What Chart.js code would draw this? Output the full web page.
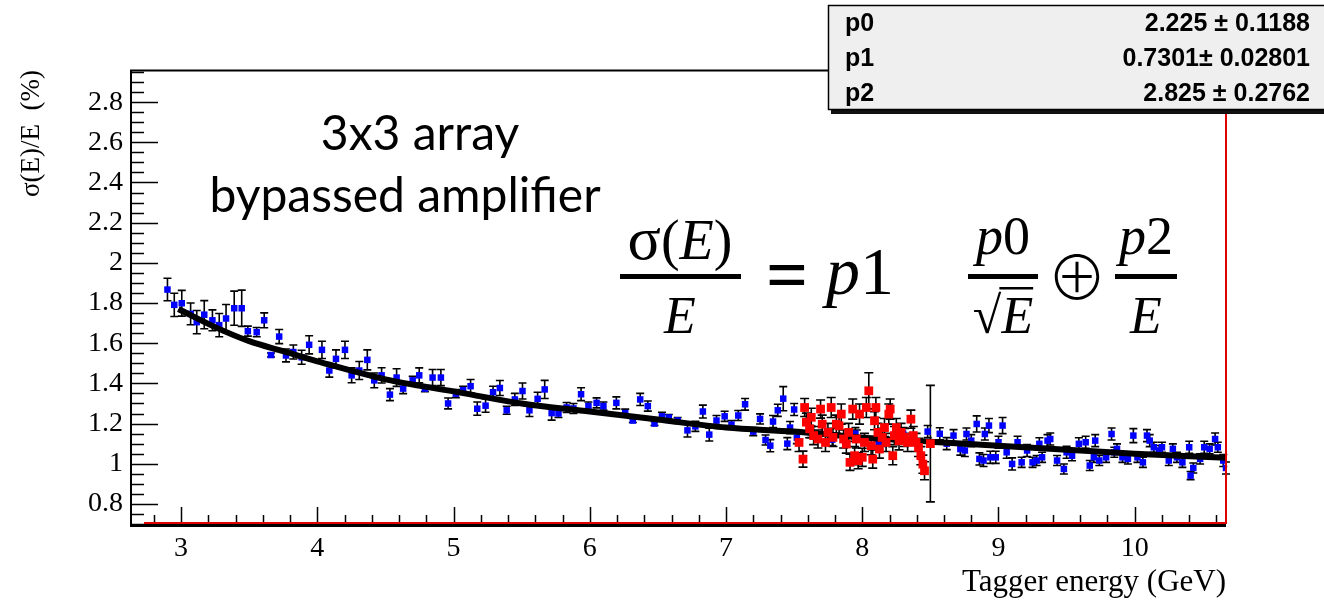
<!DOCTYPE html>
<html>
<head>
<meta charset="utf-8">
<script src="https://cdn.jsdelivr.net/npm/chart.js@4.4.1/dist/chart.umd.min.js"></script>
<style>
html, body { margin: 0; padding: 0; background: #fff; }
</style>
</head>
<body>
<canvas id="c" width="1324" height="602"></canvas>
<script>
// tick labels
var xTickValues = [3, 4, 5, 6, 7, 8, 9, 10];
var yTickValues = [0.8, 1, 1.2, 1.4, 1.6, 1.8, 2, 2.2, 2.4, 2.6, 2.8];

// blue points: energy, sigma/E, error
var blueE = [2.90, 2.95, 3.005, 3.07, 3.115, 3.17, 3.23, 3.28, 3.33, 3.39, 3.445, 3.49, 3.555, 3.61, 3.66, 3.72, 3.77, 3.824, 3.885, 3.94,
  4.034, 4.088, 4.137, 4.203, 4.252, 4.308, 4.367, 4.418, 4.472, 4.533, 4.582, 4.63, 4.70, 4.748, 4.79, 4.846, 4.907, 4.96,
  5.017, 5.07, 5.125, 5.174, 5.235, 5.29, 5.34, 5.39, 5.45, 5.506, 5.557, 5.617, 5.669, 5.72, 5.77, 5.83, 5.88, 5.936, 5.99,
  6.05, 6.10, 6.195, 6.26, 6.316, 6.37, 6.426, 6.475, 6.53, 6.58, 6.645, 6.717, 6.775, 6.83, 6.877, 6.93, 6.99,
  7.04, 7.09, 7.14, 7.20, 7.25, 7.29, 7.325, 7.345, 7.38, 7.42, 7.45, 7.47, 7.50, 7.52, 7.62, 7.78, 7.95,
  8.12, 8.30, 8.48, 8.569, 8.62, 8.67, 8.72, 8.753, 8.765, 8.80, 8.84, 8.86, 8.89, 8.90, 8.93, 8.94, 8.98,
  9.00, 9.03, 9.06, 9.10, 9.14, 9.17, 9.21, 9.25, 9.28, 9.30, 9.32, 9.36, 9.38, 9.43, 9.48, 9.50, 9.54, 9.59, 9.64, 9.67,
  9.70, 9.71, 9.74, 9.79, 9.83, 9.85, 9.87, 9.91, 9.95, 9.99, 10.02, 10.06, 10.09, 10.11, 10.14, 10.18, 10.20, 10.25, 10.28,
  10.31, 10.35, 10.40, 10.41, 10.43, 10.48, 10.51, 10.55, 10.59, 10.61, 10.65, 10.67];
var blueV = [1.867, 1.791, 1.799, 1.746, 1.705, 1.742, 1.714, 1.69, 1.723, 1.774, 1.774, 1.66, 1.655, 1.714, 1.541, 1.633, 1.539, 1.556, 1.53, 1.592,
  1.567, 1.464, 1.522, 1.567, 1.44, 1.464, 1.517, 1.415, 1.44, 1.344, 1.429, 1.374, 1.415, 1.44, 1.374, 1.429, 1.429, 1.30,
  1.349, 1.366, 1.386, 1.274, 1.289, 1.356, 1.377, 1.266, 1.32, 1.362, 1.266, 1.323, 1.37, 1.252, 1.25, 1.28, 1.275, 1.346, 1.287,
  1.303, 1.287, 1.303, 1.252, 1.215, 1.32, 1.287, 1.20, 1.236, 1.23, 1.215, 1.166, 1.186, 1.26, 1.145, 1.215, 1.236,
  1.195, 1.24, 1.296, 1.16, 1.223, 1.118, 1.09, 1.21, 1.266, 1.324, 1.10, 1.18, 1.27, 1.13, 1.16, 1.12, 1.15,
  1.10, 1.15, 1.16, 1.149, 1.10, 1.14, 1.073, 1.066, 1.148, 1.115, 1.198, 1.024, 1.016, 1.148, 1.19, 1.032, 1.032,
  1.107, 1.19, 1.057, 0.999, 1.107, 1.007, 1.066, 1.007, 1.016, 1.099, 1.032, 1.115, 1.123, 1.016, 0.974, 1.057, 1.04, 1.099, 1.107, 0.991,
  1.032, 1.115, 1.016, 1.032, 1.148, 1.057, 1.074, 1.032, 1.024, 1.14, 1.032, 1.007, 1.14, 1.115, 1.082, 1.066, 1.082, 1.016, 1.074,
  1.032, 1.007, 1.082, 0.941, 0.979, 1.024, 1.082, 1.074, 1.123, 1.082, 1.016, 0.979];
var blueErr = [0.056, 0.058, 0.064, 0.054, 0.058, 0.07, 0.052, 0.058, 0.07, 0.085, 0.09, 0.025, 0.023, 0.037, 0.01, 0.035, 0.032, 0.035, 0.035, 0.045,
  0.043, 0.033, 0.045, 0.043, 0.037, 0.045, 0.05, 0.037, 0.038, 0.03, 0.044, 0.025, 0.02, 0.037, 0.015, 0.04, 0.04, 0.027,
  0.02, 0.02, 0.033, 0.033, 0.033, 0.03, 0.037, 0.02, 0.03, 0.04, 0.031, 0.033, 0.045, 0.035, 0.02, 0.025, 0.025, 0.032, 0.02,
  0.025, 0.02, 0.03, 0.02, 0.01, 0.03, 0.025, 0.01, 0.02, 0.015, 0.015, 0.033, 0.025, 0.032, 0.032, 0.025, 0.025,
  0.02, 0.025, 0.029, 0.02, 0.025, 0.025, 0.03, 0.03, 0.03, 0.06, 0.03, 0.03, 0.03, 0.03, 0.03, 0.03, 0.03,
  0.03, 0.03, 0.03, 0.03, 0.03, 0.03, 0.03, 0.03, 0.03, 0.03, 0.04, 0.03, 0.03, 0.03, 0.035, 0.03, 0.03,
  0.03, 0.04, 0.03, 0.03, 0.03, 0.025, 0.03, 0.025, 0.025, 0.03, 0.025, 0.03, 0.03, 0.025, 0.025, 0.03, 0.025, 0.03, 0.03, 0.025,
  0.025, 0.03, 0.025, 0.025, 0.03, 0.025, 0.025, 0.025, 0.025, 0.035, 0.025, 0.025, 0.03, 0.03, 0.025, 0.025, 0.025, 0.025, 0.025,
  0.025, 0.025, 0.03, 0.02, 0.025, 0.025, 0.03, 0.025, 0.03, 0.025, 0.03, 0.03];

// red points
var redE = [7.536, 7.565, 7.577, 7.59, 7.614, 7.626, 7.643, 7.675, 7.694, 7.706, 7.73, 7.748, 7.772, 7.785, 7.81, 7.83, 7.846, 7.863, 7.883, 7.90,
  7.91, 7.93, 7.944, 7.956, 7.97, 7.98, 8.00, 8.016, 8.03, 8.048, 8.065, 8.077, 8.09, 8.10, 8.115, 8.126, 8.146, 8.163, 8.175, 8.195,
  8.205, 8.224, 8.236, 8.25, 8.27, 8.285, 8.31, 8.333, 8.357, 8.375, 8.395, 8.413, 8.43, 8.445, 8.457, 8.50];
var redV = [1.106, 1.023, 1.28, 1.207, 1.174, 1.231, 1.14, 1.123, 1.272, 1.197, 1.106, 1.156, 1.28, 1.131, 1.197, 1.189, 1.247, 1.123, 1.098, 1.156,
  1.007, 1.272, 1.04, 1.123, 1.015, 1.247, 1.032, 1.106, 1.28, 1.363, 1.09, 1.023, 1.214, 1.28, 1.156, 1.073, 1.131, 1.18, 1.106, 1.247,
  1.272, 1.04, 1.14, 1.18, 1.114, 1.156, 1.131, 1.106, 1.222, 1.14, 1.106, 1.081, 1.04, 0.998, 0.965, 1.10];
var redErr = [0.045, 0.04, 0.045, 0.045, 0.045, 0.045, 0.045, 0.045, 0.045, 0.045, 0.045, 0.045, 0.05, 0.045, 0.045, 0.045, 0.05, 0.045, 0.045, 0.045,
  0.04, 0.05, 0.045, 0.045, 0.04, 0.05, 0.045, 0.045, 0.05, 0.09, 0.045, 0.045, 0.045, 0.05, 0.045, 0.045, 0.045, 0.045, 0.045, 0.05,
  0.05, 0.045, 0.045, 0.045, 0.045, 0.045, 0.045, 0.045, 0.045, 0.045, 0.045, 0.045, 0.045, 0.045, 0.045, 0.29];

// fit curve
var fitE = [2.98, 3.25, 3.5, 3.75, 4, 4.5, 5, 5.5, 6, 6.5, 7, 7.5, 8, 8.5, 9, 9.5, 10, 10.67];
var fitV = [1.77, 1.68, 1.61, 1.56, 1.51, 1.42, 1.36, 1.30, 1.26, 1.22, 1.18, 1.16, 1.13, 1.11, 1.09, 1.07, 1.05, 1.03];

// stats box
var parNames = ['p0', 'p1', 'p2'];
var parValues = ['2.225 \u00b1 0.1188', '0.7301\u00b1 0.02801', '2.825 \u00b1 0.2762'];

function pts(xs, ys) {
  return xs.map(function(v, i) { return {x: v, y: ys[i]}; });
}

var serif = '"Liberation Serif", "Times New Roman", serif';

var errorBars = {
  id: 'errorBars',
  beforeDatasetsDraw: function(chart) {
    var ctx = chart.ctx, yS = chart.scales.y;
    ctx.save();
    ctx.strokeStyle = '#000';
    ctx.lineWidth = 1.6;
    chart.data.datasets.forEach(function(ds, di) {
      if (!ds.errs) return;
      var meta = chart.getDatasetMeta(di);
      meta.data.forEach(function(p, j) {
        var v = ds.data[j].y, e = ds.errs[j];
        var top = yS.getPixelForValue(v + e), bot = yS.getPixelForValue(v - e);
        var w = ds.capHalf;
        ctx.beginPath();
        ctx.moveTo(p.x, top); ctx.lineTo(p.x, bot);
        ctx.moveTo(p.x - w, top); ctx.lineTo(p.x + w, top);
        ctx.moveTo(p.x - w, bot); ctx.lineTo(p.x + w, bot);
        ctx.stroke();
      });
    });
    ctx.restore();
  }
};

function run(ctx, parts, cx, base, align) {
  var total = 0;
  parts.forEach(function(p) { ctx.font = p[1]; total += ctx.measureText(p[0]).width; });
  var x = align === 'left' ? cx : cx - total / 2;
  var start = x;
  ctx.textAlign = 'left';
  parts.forEach(function(p) { ctx.font = p[1]; ctx.fillText(p[0], x, base); x += ctx.measureText(p[0]).width; });
  return [start, x];
}

var decor = {
  id: 'decor',
  afterDatasetsDraw: function(chart) {
    var ctx = chart.ctx, a = chart.chartArea, xS = chart.scales.x, yS = chart.scales.y;
    ctx.save();
    ctx.strokeStyle = '#000';
    ctx.lineWidth = 1.5;
    ctx.beginPath();
    var k, py, px;
    for (k = 14; k <= 59; k++) {
      py = Math.round(yS.getPixelForValue(k * 0.05)) + 0.5;
      ctx.moveTo(a.left, py); ctx.lineTo(a.left + 14, py);
    }
    yTickValues.forEach(function(v) {
      py = Math.round(yS.getPixelForValue(v)) + 0.5;
      ctx.moveTo(a.left, py); ctx.lineTo(a.left + 28, py);
    });
    for (k = 14; k <= 53; k++) {
      px = Math.round(xS.getPixelForValue(k * 0.2)) + 0.5;
      ctx.moveTo(px, a.bottom); ctx.lineTo(px, a.bottom - 9);
    }
    xTickValues.forEach(function(v) {
      px = Math.round(xS.getPixelForValue(v)) + 0.5;
      ctx.moveTo(px, a.bottom); ctx.lineTo(px, a.bottom - 17);
    });
    ctx.stroke();

    // frame
    ctx.lineWidth = 2;
    ctx.beginPath();
    ctx.moveTo(a.left + 1, a.bottom + 1); ctx.lineTo(a.left + 1, a.top + 0.5); ctx.lineTo(830, a.top + 0.5);
    ctx.stroke();
    ctx.lineWidth = 3;
    ctx.beginPath();
    ctx.moveTo(a.left, a.bottom + 1.5); ctx.lineTo(a.right, a.bottom + 1.5);
    ctx.stroke();
    ctx.strokeStyle = '#e00000';
    ctx.lineWidth = 2;
    ctx.beginPath();
    ctx.moveTo(a.left + 14, a.bottom - 1); ctx.lineTo(a.right, a.bottom - 1);
    ctx.moveTo(a.right, a.bottom); ctx.lineTo(a.right, 110);
    ctx.stroke();
    ctx.restore();
  },
  afterDraw: function(chart) {
    var ctx = chart.ctx;
    ctx.save();
    // stats box
    ctx.fillStyle = '#111';
    ctx.fillRect(831, 9, 520, 105);
    ctx.fillStyle = '#efefef';
    ctx.fillRect(828, 5, 520, 105);
    ctx.strokeStyle = '#000';
    ctx.lineWidth = 1.5;
    ctx.strokeRect(828.5, 5.5, 520, 104);
    ctx.fillStyle = '#000';
    ctx.font = 'bold 25px "Liberation Sans", Arial, sans-serif';
    ctx.textBaseline = 'alphabetic';
    parNames.forEach(function(n, i) {
      ctx.textAlign = 'left';
      ctx.fillText(n, 845, 31 + i * 35);
      ctx.textAlign = 'right';
      ctx.fillText(parValues[i], 1310, 31 + i * 35);
    });

    // annotation
    ctx.textAlign = 'center';
    ctx.font = '48px Lato, "Open Sans", sans-serif';
    ctx.fillText('3x3 array', 420, 150);
    ctx.fillText('bypassed amplifier', 405, 212);

    // formula
    var up = function(s) { return s + 'px ' + serif; };
    var it = function(s) { return 'italic ' + s + 'px ' + serif; };
    run(ctx, [['\u03c3', up(62)], ['(', up(56)], ['E', it(56)], [')', up(56)]], 680, 259);
    ctx.fillRect(620, 274, 121, 5);
    run(ctx, [['E', it(52)]], 680, 333);
    run(ctx, [['=', 'bold ' + up(74)]], 787, 300);
    run(ctx, [['p', it(68)], ['1', up(68)]], 826, 294, 'left');
    run(ctx, [['p', it(54)], ['0', up(54)]], 1003, 254);
    ctx.fillRect(968, 274, 70, 5);
    var r = run(ctx, [['\u221a', up(52)], ['E', it(52)]], 1003, 333);
    ctx.font = up(52);
    var sw = ctx.measureText('\u221a').width;
    ctx.fillRect(r[0] + sw - 2, 287, r[1] - r[0] - sw + 2, 2.5);
    ctx.font = '200 60px "DejaVu Sans ExtraLight", "Noto Sans CJK JP", sans-serif';
    ctx.textAlign = 'center';
    ctx.textBaseline = 'middle';
    ctx.fillText('\u2295', 1077, 277);
    ctx.textBaseline = 'alphabetic';
    run(ctx, [['p', it(54)], ['2', up(54)]], 1146, 254);
    ctx.fillRect(1115, 274, 62, 5);
    run(ctx, [['E', it(52)]], 1146, 333);
    ctx.restore();
  }
};

new Chart(document.getElementById('c'), {
  type: 'scatter',
  data: {
    datasets: [{
      label: 'red',
      data: pts(redE, redV),
      errs: redErr,
      capHalf: 4.5,
      pointStyle: 'rect',
      pointRadius: 6.2,
      backgroundColor: '#ff0000',
      borderColor: '#ff0000',
      borderWidth: 0
    }, {
      label: 'fit',
      data: pts(fitE, fitV),
      showLine: true,
      cubicInterpolationMode: 'monotone',
      borderColor: '#000',
      borderWidth: 6,
      pointRadius: 0
    }, {
      label: 'blue',
      data: pts(blueE, blueV),
      errs: blueErr,
      capHalf: 4,
      pointStyle: 'rect',
      pointRadius: 4.6,
      backgroundColor: '#0000ff',
      borderColor: '#0000ff',
      borderWidth: 0
    }]
  },
  options: {
    responsive: false,
    animation: false,
    devicePixelRatio: 1,
    layout: { padding: { left: 0, top: 70, right: 98, bottom: 0 } },
    plugins: { legend: { display: false }, tooltip: { enabled: false } },
    scales: {
      x: {
        type: 'linear',
        min: 2.625,
        max: 10.67,
        afterFit: function(s) { s.height = 78; },
        afterBuildTicks: function(s) { s.ticks = xTickValues.map(function(v) { return {value: v}; }); },
        grid: { display: false, drawTicks: false },
        border: { display: false },
        ticks: { color: '#000', padding: 8, font: { family: serif, size: 28 } },
        title: {
          display: true, text: 'Tagger energy (GeV)', align: 'end', color: '#000',
          font: { family: serif, size: 31 }, padding: { top: 0, bottom: 1 }
        }
      },
      y: {
        min: 0.7,
        max: 2.96,
        afterFit: function(s) { s.width = 130; },
        afterBuildTicks: function(s) { s.ticks = yTickValues.map(function(v) { return {value: v}; }); },
        grid: { display: false, drawTicks: false },
        border: { display: false },
        ticks: {
          color: '#000', padding: 7, font: { family: serif, size: 28 },
          callback: function(v) { return String(+v.toFixed(1)); }
        },
        title: {
          display: true, text: '\u03c3(E)/E  (%)', align: 'end', color: '#000',
          font: { family: serif, size: 27 }, padding: { top: 16, bottom: 0 }
        }
      }
    }
  },
  plugins: [errorBars, decor]
});
</script>
</body>
</html>
